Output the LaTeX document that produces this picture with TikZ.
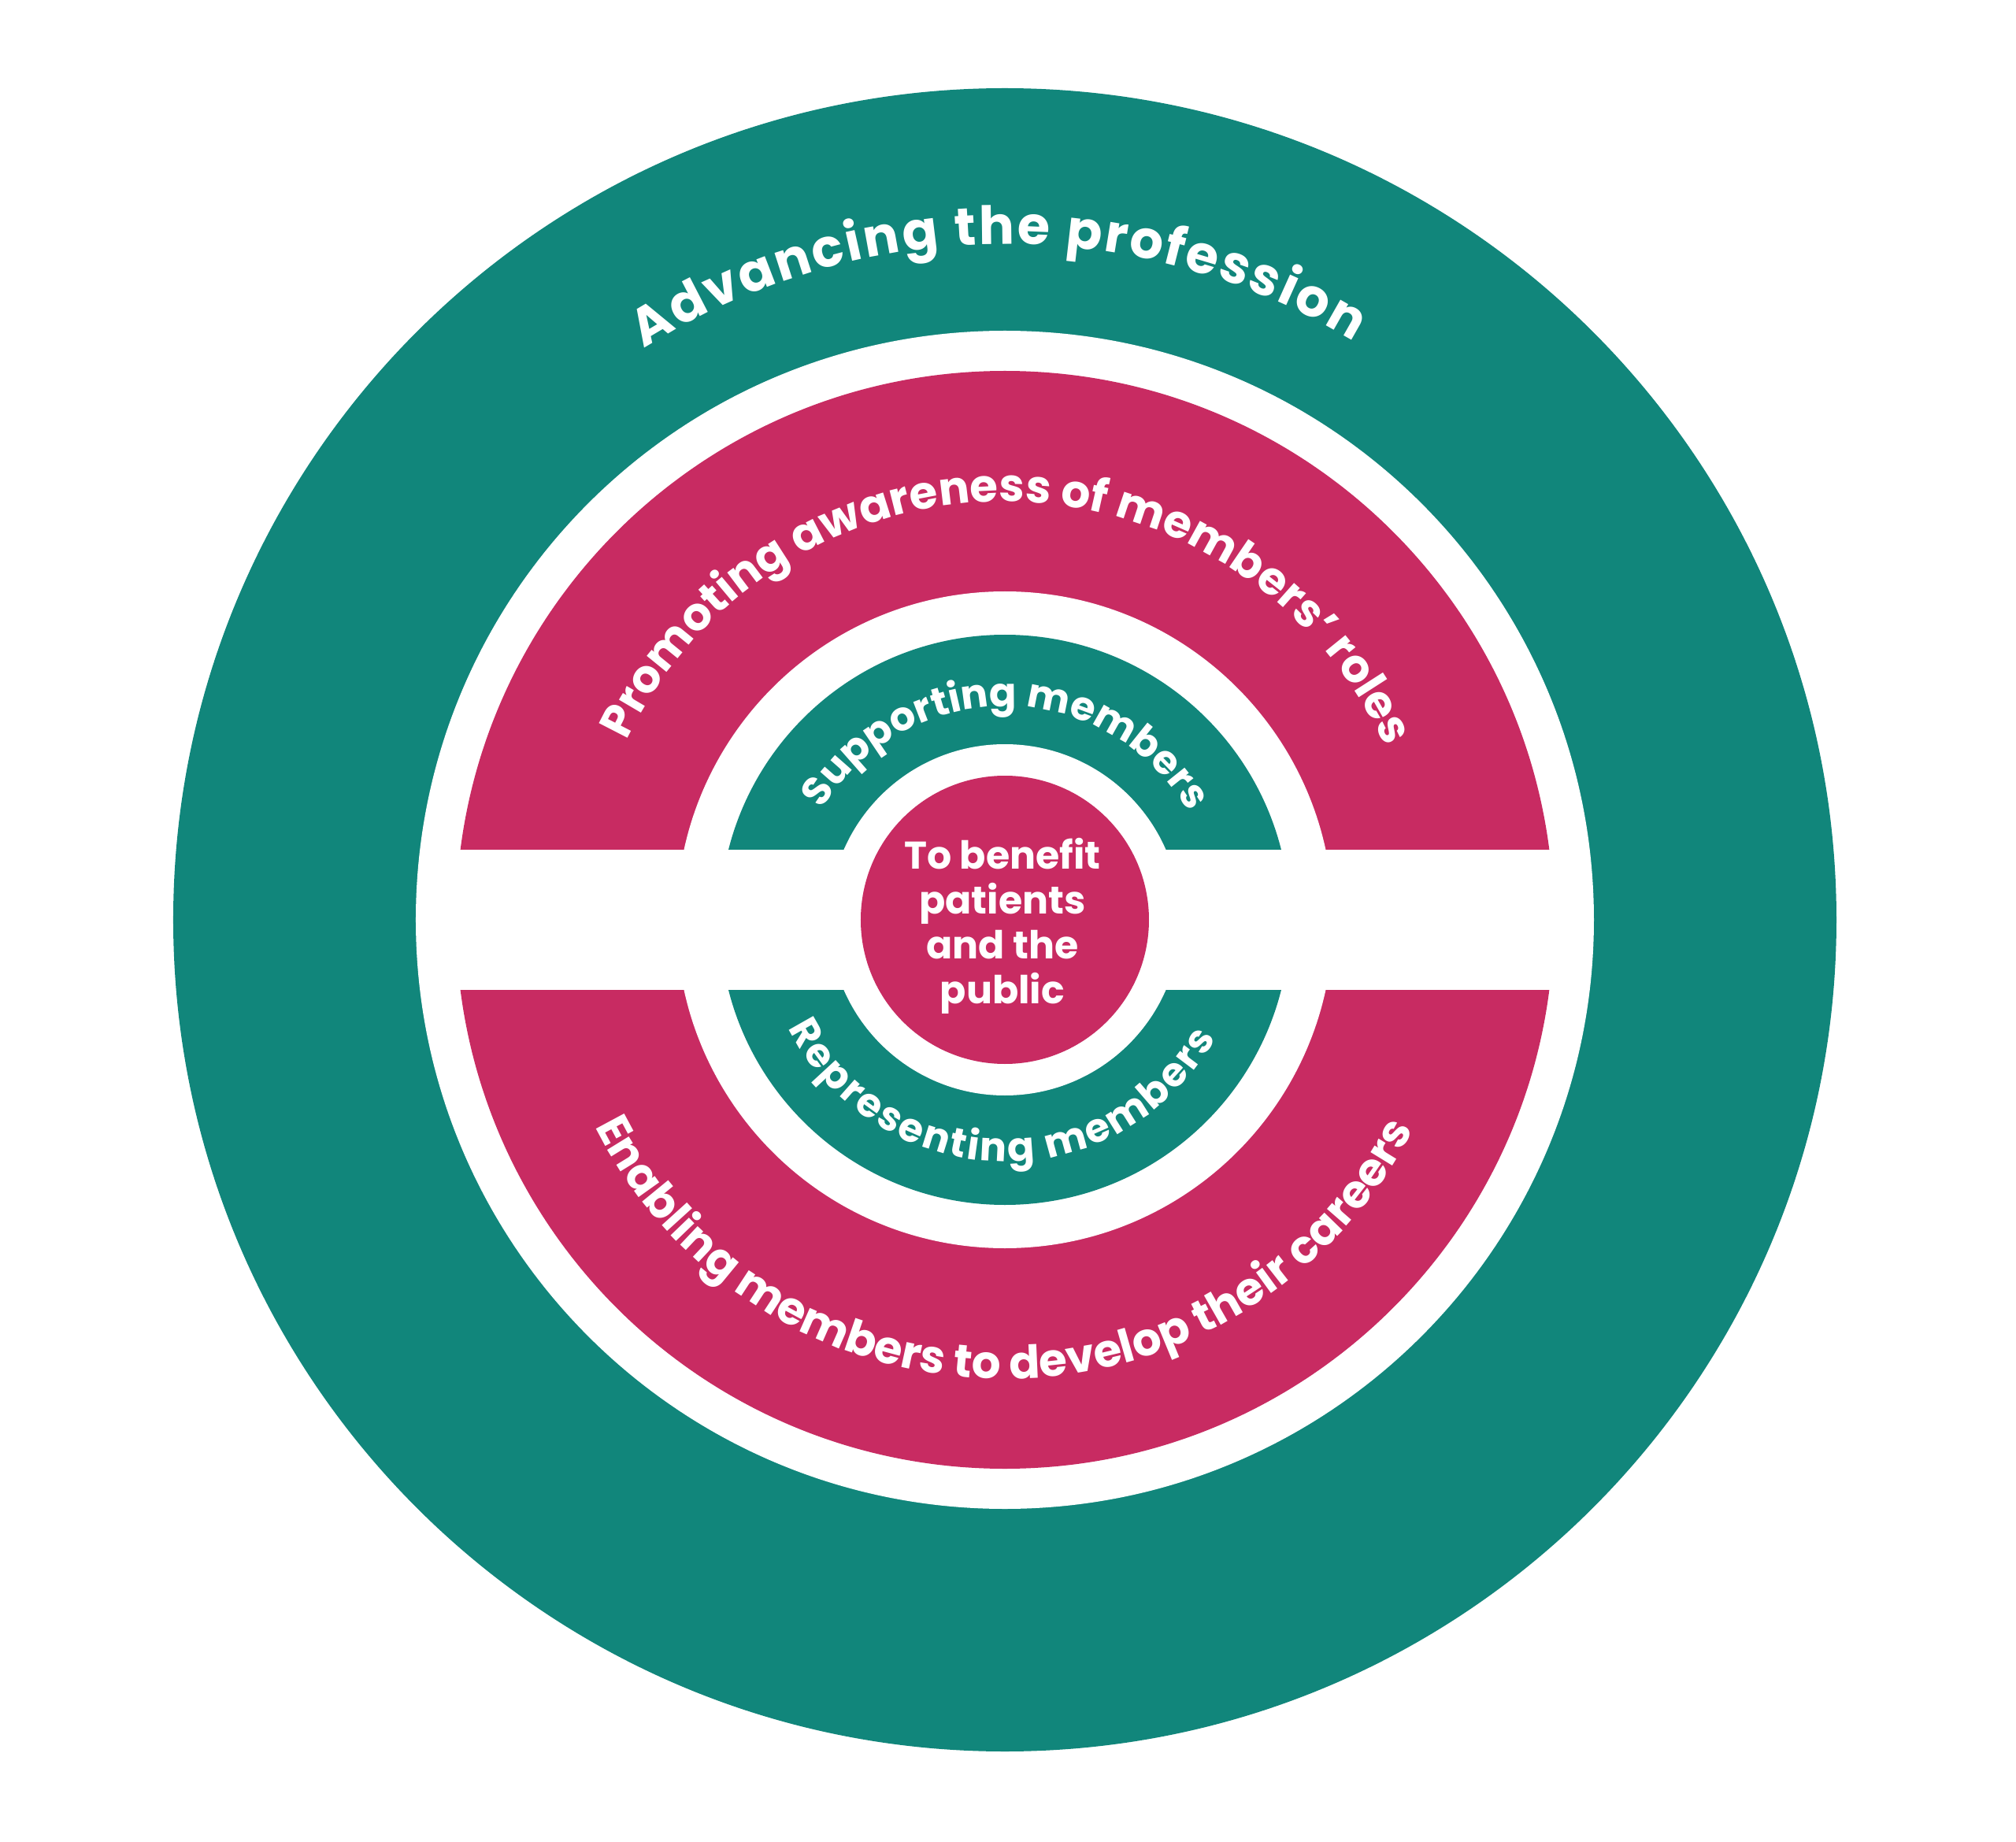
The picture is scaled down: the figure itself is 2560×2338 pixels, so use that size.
\documentclass[tikz,border=0pt]{standalone}
\usepackage{fontspec}
\setmainfont{Poppins}
\usetikzlibrary{decorations.text}
\definecolor{teal}{HTML}{11867B}
\definecolor{mag}{HTML}{C82B62}
\tikzset{
  ringtext/.style={decorate, decoration={text along path, text color=white, text align=fit to path, text={#1}}},
}
\newcommand{\hugef}{\fontsize{67}{67}\selectfont\bfseries}
\newcommand{\bigf}{\fontsize{58}{58}\selectfont\bfseries}
\newcommand{\midf}{\fontsize{51}{51}\selectfont\bfseries}
\begin{document}
\begin{tikzpicture}[x=1pt,y=1pt]
\useasboundingbox (-1276,-1170) rectangle (1284,1168);
\fill[white] (-1276,-1170) rectangle (1284,1168);
% rings
\fill[teal] (0,0) circle[radius=1056];
\fill[white] (0,0) circle[radius=748];
\fill[mag] (0,0) circle[radius=697];
\fill[white] (0,0) circle[radius=417];
\fill[teal] (0,0) circle[radius=362];
\fill[white] (0,0) circle[radius=223];
\fill[white] (-705,-89) rectangle (705,89);
\fill[mag] (0,0) circle[radius=183];
% texts
\path[ringtext={|\hugef|Advancing the profession}] (122.3:858) arc[start angle=122.3, end angle=58.9, radius=858];
\path[ringtext={|\bigf|Promoting awareness of members’ roles}] (154.7:531) arc[start angle=154.7, end angle=24.8, radius=531];
\path[ringtext={|\midf|Supporting members}] (148.9:271) arc[start angle=148.9, end angle=31.2, radius=271];
\path[ringtext={|\midf|Representing members}] (206.5:307) arc[start angle=206.5, end angle=330.8, radius=307];
\path[ringtext={|\bigf|Enabling members to develop their careers}] (206.7:583) arc[start angle=206.7, end angle=332.2, radius=583];
\node[text=white, align=center, font=\fontsize{49}{57}\selectfont\bfseries] (centre) at (-3,-8) {To benefit\\patients\\and the\\public};
\end{tikzpicture}
\end{document}
